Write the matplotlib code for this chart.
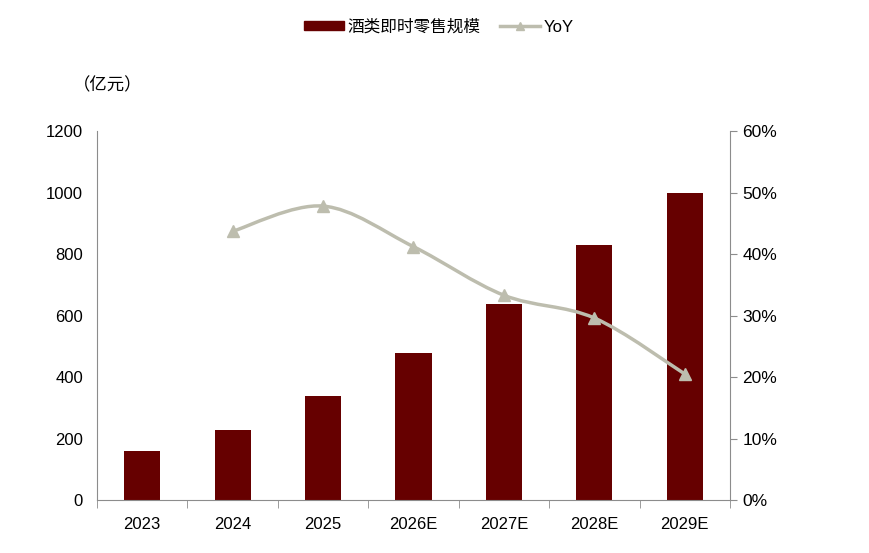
import numpy as np
import matplotlib
matplotlib.use("Agg")
import matplotlib.pyplot as plt
from matplotlib.path import Path
from matplotlib.patches import PathPatch
from matplotlib.lines import Line2D
from matplotlib.patches import Patch

plt.rcParams["font.family"] = ["Liberation Sans", "Noto Sans CJK SC", "DejaVu Sans"]

years = ["2023", "2024", "2025", "2026E", "2027E", "2028E", "2029E"]
sales = [160, 229, 339, 479, 638, 830, 999]
yoy_years = ["2024", "2025", "2026E", "2027E", "2028E", "2029E"]
yoy = [43.7, 47.8, 41.2, 33.3, 29.6, 20.5]

BAR_COLOR = "#660000"
LINE_COLOR = "#BDBDAE"
SPINE_COLOR = "#8C8C8C"


def smooth_path(xs, ys):
    # Catmull-Rom style bezier, like Excel's smoothed line
    xs = np.asarray(xs, float)
    ys = np.asarray(ys, float)
    verts = [(xs[0], ys[0])]
    codes = [Path.MOVETO]
    n = len(xs)
    for i in range(n - 1):
        x0, y0 = (xs[i - 1], ys[i - 1]) if i > 0 else (xs[i], ys[i])
        x3, y3 = (xs[i + 2], ys[i + 2]) if i + 2 < n else (xs[i + 1], ys[i + 1])
        c1 = (xs[i] + (xs[i + 1] - x0) / 6, ys[i] + (ys[i + 1] - y0) / 6)
        c2 = (xs[i + 1] - (x3 - xs[i]) / 6, ys[i + 1] - (y3 - ys[i]) / 6)
        verts += [c1, c2, (xs[i + 1], ys[i + 1])]
        codes += [Path.CURVE4] * 3
    return Path(verts, codes)


fig = plt.figure(figsize=(8.69, 5.53), dpi=100)
ax = fig.add_axes([0.1116, 0.0958, 0.7284, 0.6672])
ax2 = ax.twinx()

x = np.arange(len(years))
ax.bar(x, sales, width=0.4, color=BAR_COLOR, zorder=2)
ax.set_xlim(-0.5, len(years) - 0.5)
ax.set_ylim(0, 1200)
ax.set_yticks(range(0, 1201, 200))
ax.set_xticks(x)
ax.set_xticklabels(years)
ax.set_xticks(np.arange(-0.5, len(years), 1), minor=True)
ax.tick_params(axis="x", which="major", length=0, pad=12, labelsize=12)
ax.tick_params(axis="x", which="minor", length=6, color=SPINE_COLOR, direction="out")
ax.tick_params(axis="y", length=0, pad=10, labelsize=12)

xi = [years.index(y) for y in yoy_years]
ax2.add_patch(PathPatch(smooth_path(xi, yoy), facecolor="none",
                        edgecolor=LINE_COLOR, lw=2.5, zorder=3))
ax2.plot(xi, yoy, ls="none", marker="^", ms=8, color=LINE_COLOR, zorder=4)
ax2.set_ylim(0, 60)
ax2.set_yticks(range(0, 61, 10))
ax2.set_yticklabels([f"{v}%" for v in range(0, 61, 10)])
ax2.tick_params(axis="y", length=5, color=SPINE_COLOR, direction="out", labelsize=12.5, pad=4)

for a in (ax, ax2):
    a.spines["top"].set_visible(False)
    for s in ("left", "right", "bottom"):
        a.spines[s].set_color(SPINE_COLOR)
ax.spines["right"].set_visible(False)
ax2.spines["left"].set_visible(False)
ax2.spines["bottom"].set_visible(False)

fig.text(0.084, 0.845, "（亿元）", fontsize=12.5, family=["Noto Sans CJK SC", "DejaVu Sans"],
         ha="left", va="center")

handles = [Patch(color=BAR_COLOR),
           Line2D([0], [0], color=LINE_COLOR, lw=2.5, marker="^", ms=6)]
leg = fig.legend(handles, ["酒类即时零售规模", "YoY"], loc="center", bbox_to_anchor=(0.505, 0.951),
                 ncol=2, frameon=False, handlelength=2.4, handleheight=0.5,
                 columnspacing=1.15, handletextpad=0.25,
                 prop={"family": ["Noto Sans CJK SC", "DejaVu Sans"], "size": 12})
leg.get_texts()[1].set_family("Liberation Sans")

fig.savefig("out.png", dpi=100)
